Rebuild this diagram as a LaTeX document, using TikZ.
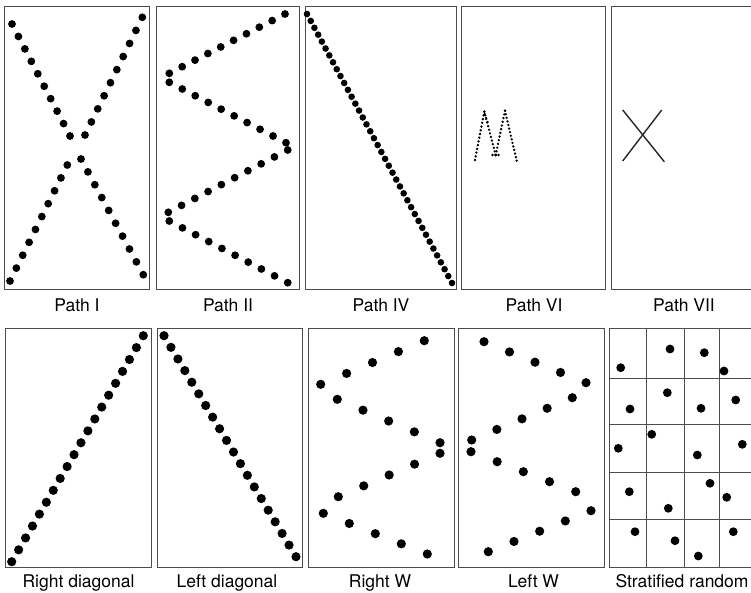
\documentclass[tikz,border=0pt]{standalone}
\usepackage{fontspec}
\setmainfont{TeX Gyre Heros}
\usetikzlibrary{
    calc
}
\tikzset{
    panel/.style={
        draw=black!70,
        line width=0.9pt
    },
    gridline/.style={
        draw=black!70,
        line width=0.8pt
    },
    caption/.style={
        anchor=base,
        inner sep=0pt,
        font=\fontsize{17.5}{20}\selectfont
    },
    xline/.style={
        draw=black!85,
        line width=1.4pt
    }
}
% fila de puntos: desde, hasta, cantidad, radio
\newcommand{\dotrun}[4]{%
    \foreach \k in {1,...,#3}{
        \fill ($(#1)!{(\k-1)/(#3-1)}!(#2)$) circle[radius=#4];
    }%
}

\begin{document}
\begin{tikzpicture}[x=1pt, y=-1pt]

    \useasboundingbox (0,0) rectangle (751,592);
    \clip (0,0) rectangle (751,592);

    % Marcos
    \draw[panel] (4,6)   rectangle (149,289);
    \draw[panel] (156,6) rectangle (299,289);
    \draw[panel] (305,6) rectangle (456,289);
    \draw[panel] (461,6) rectangle (605,289);
    \draw[panel] (611,6) rectangle (757,289);

    \draw[panel] (5,328)   rectangle (151,567);
    \draw[panel] (157,328) rectangle (302,567);
    \draw[panel] (308,328) rectangle (454,567);
    \draw[panel] (458,328) rectangle (604,567);
    \draw[panel] (609,328) rectangle (757,567);

    % Rejilla
    \foreach \gx in {646,684,719}
        \draw[gridline] (\gx,328) -- (\gx,567);
    \foreach \gy in {378,424,472,519}
        \draw[gridline] (609,\gy) -- (757,\gy);

    % Path I
    \dotrun{12,24}{70,136}{10}{3.9pt}
    \dotrun{81,159}{143.3,274.7}{10}{3.9pt}
    \dotrun{10,281}{67.3,165}{10}{3.9pt}
    \dotrun{85,135}{142.3,17.3}{10}{3.9pt}

    % Path II
    \dotrun{285,14}{169.3,73.3}{10}{3.9pt}
    \dotrun{169.3,82.3}{286,142.7}{10}{3.9pt}
    \dotrun{287.7,150}{168.3,212.3}{10}{3.9pt}
    \dotrun{169.3,221}{287.7,282.7}{10}{3.9pt}

    % Path IV
    \dotrun{307,14}{452,283}{40}{3.3pt}

    % Path VI
    \coordinate (m1) at (475,160);
    \coordinate (m2) at (484.3,111.7);
    \coordinate (m3) at (495.7,155);
    \coordinate (m4) at (505,110.7);
    \coordinate (m5) at (516.7,160.7);
    \dotrun{m1}{m2}{14}{1.3pt}
    \dotrun{m2}{m3}{13}{1.3pt}
    \dotrun{m3}{m4}{13}{1.3pt}
    \dotrun{m4}{m5}{15}{1.3pt}
    \dotrun{484.6,114}{487.6,122}{3}{1.3pt}
    \dotrun{492.5,155}{498.5,155}{3}{1.3pt}

    % Path VII
    \coordinate (x1) at (622.7,110);
    \coordinate (x2) at (664.3,161.7);
    \coordinate (x3) at (661.7,110);
    \coordinate (x4) at (622.7,161);
    \draw[xline] (x1) -- (x2);
    \draw[xline] (x3) -- (x4);

    % Right diagonal / Left diagonal
    \dotrun{11.7,561.7}{143.3,335.7}{20}{4.6pt}
    \dotrun{164,335.7}{296,556.7}{20}{4.6pt}

    % Right W
    \dotrun{424.3,340.7}{320.7,384.3}{5}{4.6pt}
    \dotrun{337.3,399.3}{440,442.7}{5}{4.6pt}
    \dotrun{440,453.3}{338.3,496.7}{5}{4.6pt}
    \dotrun{323.3,513.3}{427.3,554}{5}{4.6pt}

    % Left W
    \dotrun{484,341.7}{586,382.7}{5}{4.6pt}
    \dotrun{572.3,397.7}{471.7,440}{5}{4.6pt}
    \dotrun{471,451.7}{575.7,491.7}{5}{4.6pt}
    \dotrun{591,510.7}{488.3,551.7}{5}{4.6pt}

    % Stratified random
    \foreach \px/\py in {
        620.7/367.7, 670/349,     704.3/352.7, 724/371,
        630/409,     667.3/392.7, 701/408.3,   735.7/400,
        618.3/448.3, 651.7/434.3, 697.3/455,   742.3/444.3,
        629.3/491.7, 668.3/508.3, 710/483.3,   726.7/497.3,
        635/531.7,   675/540.7,   698.3/556,   733.3/531.7
    }
        \fill (\px,\py) circle[radius=4.4pt];

    % Rotulos
    \node[caption] (capI)   at (77,311)  {Path I};
    \node[caption] (capII)  at (228,311) {Path II};
    \node[caption] (capIV)  at (381,311) {Path IV};
    \node[caption] (capVI)  at (534,311) {Path VI};
    \node[caption] (capVII) at (684,311) {Path VII};

    \node[caption] (capRD) at (78.5,587.5)  {Right diagonal};
    \node[caption] (capLD) at (227,587.5)   {Left diagonal};
    \node[caption] (capRW) at (380,587.5)   {Right W};
    \node[caption] (capLW) at (533.5,587.5) {Left W};
    \node[caption] (capSR) at (682,587.5)   {Stratified random};

\end{tikzpicture}
\end{document}
